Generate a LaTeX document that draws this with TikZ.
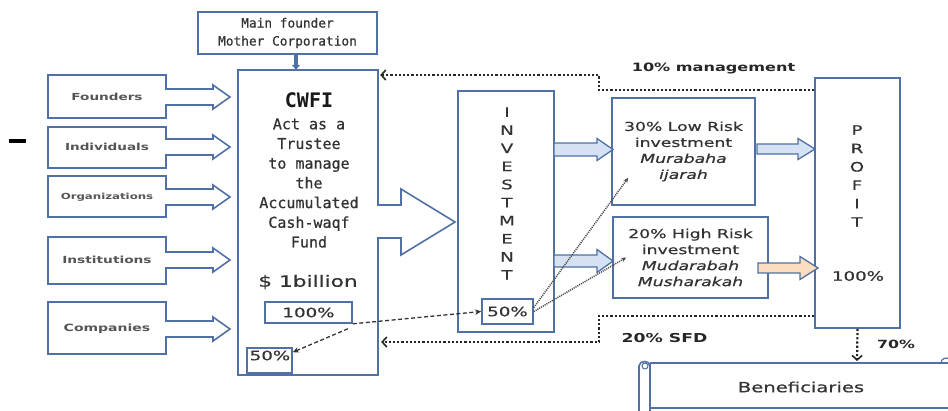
\documentclass[tikz,border=0pt]{standalone}
\usepackage{fontspec}
\usetikzlibrary{arrows.meta}
\newfontfamily\lblf[FakeStretch=1.4, FakeBold=0.6]{DejaVu Sans}
\newfontfamily\lblbf[FakeStretch=1.4]{DejaVu Sans Bold}
\newfontfamily\monof[FakeBold=0.7]{DejaVu Sans Mono}
\newfontfamily\monobf{DejaVu Sans Mono Bold}
\definecolor{bblue}{RGB}{80,112,166}
\definecolor{sky}{HTML}{D5E2F3}
\definecolor{peach}{HTML}{FBDDC0}
\definecolor{ink}{HTML}{333333}
\definecolor{labelgray}{HTML}{555555}
% block arrow: fill, shaft start x, head base x, tip x, centre y, shaft half, head half
\newcommand\blockarr[7]{\draw[outline, line width=1.3pt, fill=#1]
  (#2,#5-#6) -- (#3,#5-#6) -- (#3,#5-#7) -- (#4,#5) -- (#3,#5+#7)
  -- (#3,#5+#6) -- (#2,#5+#6) -- cycle;}
\begin{document}
\begin{tikzpicture}[x=1pt,y=-1pt,
  outline/.style={draw=bblue, line width=1.6pt, line join=miter},
  box/.style={outline, fill=white, inner sep=0pt},
  lbl/.style={text=labelgray, inner sep=0pt},
  txt/.style={text=ink, inner sep=0pt, align=center},
  anno/.style={text=black!85, inner sep=0pt},
  dotline/.style={line width=2.2pt, dash pattern=on 2.2pt off 2pt, black!85,
    -{Straight Barb[length=4.5pt,width=10pt,line width=1.6pt]}},
  dashline/.style={line width=1.3pt, dash pattern=on 4pt off 2.5pt, black!80,
    -{Stealth[length=6pt,width=5.5pt]}},
  fineline/.style={line width=1.5pt, dash pattern=on 1.1pt off 1pt, black!70,
    -{Stealth[length=5pt,width=4.5pt]}}
]
\useasboundingbox (0,0) rectangle (948,410);

% stray dash at the left margin
\fill[black] (9,139) rectangle (26,142.5);

% contributors: boxes merging into block arrows
\foreach \t/\b/\c/\name/\txt/\sz in {75/118/97/fnd/Founders/9.7,
    127/168/147/ind/Individuals/9.7, 176/217/197/org/Organizations/8.4,
    237/284/260/inst/Institutions/9.8, 302/354/329/comp/Companies/10}{
  \draw[outline] (48,\t) -- (166,\t) -- (166,\c-8) -- (213,\c-8) -- (213,\c-12)
    -- (230,\c) -- (213,\c+12) -- (213,\c+8) -- (166,\c+8) -- (166,\b) -- (48,\b) -- cycle;
  \node[lbl, font=\lblbf\fontsize{\sz}{\sz}\selectfont] (\name) at (107,\c) {\txt};
}

% CWFI box with its outgoing block arrow
\draw[outline] (238,70) -- (378,70) -- (378,205) -- (401,205) -- (401,189) -- (455,222)
  -- (401,255) -- (401,238) -- (378,238) -- (378,375) -- (238,375) -- cycle;
\node[inner sep=0pt, minimum width=140, minimum height=305] (cwfi) at (308,222.5) {};
\node[txt, text=black!90, font=\monobf\fontsize{20}{20}\selectfont] (cwfit) at (309,100) {CWFI};
\node[txt, font=\monof\fontsize{15}{19.7}\selectfont] (role) at (309,183)
  {Act as a\\Trustee\\to manage\\the\\Accumulated\\Cash-waqf\\Fund};
\node[txt, font=\lblf\fontsize{15.5}{16}\selectfont] (amount) at (308,282) {\$ 1billion};
\node[box, minimum width=87, minimum height=21, text=ink,
  font=\lblf\fontsize{13}{13}\selectfont] (p100) at (308.5,312.5) {100\%};
\node[box, minimum width=45, minimum height=25] (c50) at (269.5,360.5) {};
\node[txt, font=\lblf\fontsize{13}{13}\selectfont] (c50t) at (270,355.5) {50\%};

% main founder
\node[box, minimum width=179, minimum height=42, align=center, text=ink,
  font=\monof\fontsize{12.8}{18}\selectfont] (mf) at (287.5,33) {Main founder\\Mother Corporation};
\draw[bblue, line width=3.5pt, -{Triangle[length=5pt,width=8pt]}]
  ([xshift=8.5pt]mf.south) -- ([xshift=8.5pt]mf.south |- cwfi.north);

% investment column
\node[box, minimum width=96, minimum height=241] (inv) at (506,211.5) {};
\node[txt, font=\lblf\fontsize{13}{18.1}\selectfont] (invt) at (507,193.5)
  {I\\N\\V\\E\\S\\T\\M\\E\\N\\T};
\node[box, minimum width=51, minimum height=25, text=ink,
  font=\lblf\fontsize{13}{13}\selectfont] (i50) at (507.5,311.5) {50\%};

% investment types
\node[box, minimum width=143, minimum height=107, align=center, text=ink,
  font=\lblf\fontsize{12.3}{16}\selectfont] (low) at (683.5,151.5)
  {30\% Low Risk\\investment\\\textit{Murabaha}\\\textit{ijarah}};
\node[box, minimum width=155, minimum height=81, align=center, text=ink,
  font=\lblf\fontsize{12.3}{16}\selectfont] (high) at (690.5,257.5)
  {20\% High Risk\\investment\\\textit{Mudarabah}\\\textit{Musharakah}};

% profit column
\node[box, minimum width=85, minimum height=250] (prof) at (857.5,203) {};
\node[txt, font=\lblf\fontsize{13}{18.4}\selectfont] (proft) at (857,176) {P\\R\\O\\F\\I\\T};
\node[txt, font=\lblf\fontsize{13}{13}\selectfont] (proftot) at (858,276) {100\%};

% flows
\blockarr{sky}{554}{597}{613}{149.5}{6.5}{11}
\blockarr{sky}{554}{597}{613}{261}{6}{11.5}
\blockarr{sky}{757}{798}{815}{149}{5}{10.5}
\blockarr{peach}{758}{800}{818}{268}{5}{11.5}

% beneficiaries scroll
\draw[outline] (650,363) -- (948,363);
\draw[outline] (650,408) -- (948,408);
\draw[outline] (650,363) -- (650,412);
\draw[outline] (639,412) -- (639,366) .. controls (639,360) and (650,360) .. (650,366);
\draw[outline, line width=1pt] (645,366) circle[radius=3];
\draw[outline, line width=1.2pt] (941,363) .. controls (941,358) and (947,357) .. (949,359);
\node[txt, font=\lblf\fontsize{14}{14}\selectfont] (ben) at (801,387) {Beneficiaries};
\coordinate (bentop) at (857,361);

% returns to the fund
\coordinate (m1) at (599,75);
\coordinate (m2) at (599,342);
\draw[dotline, shorten >=2pt] ([yshift=-13pt]prof.north west) -| (m1) -- (m1 -| cwfi.east);
\draw[dotline, shorten >=3pt] ([yshift=13pt]prof.south west) -| (m2) -- (m2 -| cwfi.east);
\draw[dotline] (prof.south) -- (bentop);
\node[anno, font=\lblbf\fontsize{11.5}{12}\selectfont] (mgmt) at (713.5,68) {10\% management};
\node[anno, font=\lblbf\fontsize{12.3}{13}\selectfont] (sfd) at (664.5,338) {20\% SFD};
\node[anno, font=\lblbf\fontsize{11.3}{12}\selectfont] (seventy) at (896,344) {70\%};

% allocation of the fund
\draw[dashline] (p100.south east) -- (i50.west);
\draw[dashline] ([xshift=-5pt,yshift=-5pt]p100.south east) -- ([yshift=-5pt]c50.north east);
\draw[fineline] ([yshift=4pt]i50.east) -- ([xshift=17pt,yshift=28pt]low.south west);
\draw[fineline] (i50.east) -- ([xshift=14pt]high.west);
\end{tikzpicture}
\end{document}
